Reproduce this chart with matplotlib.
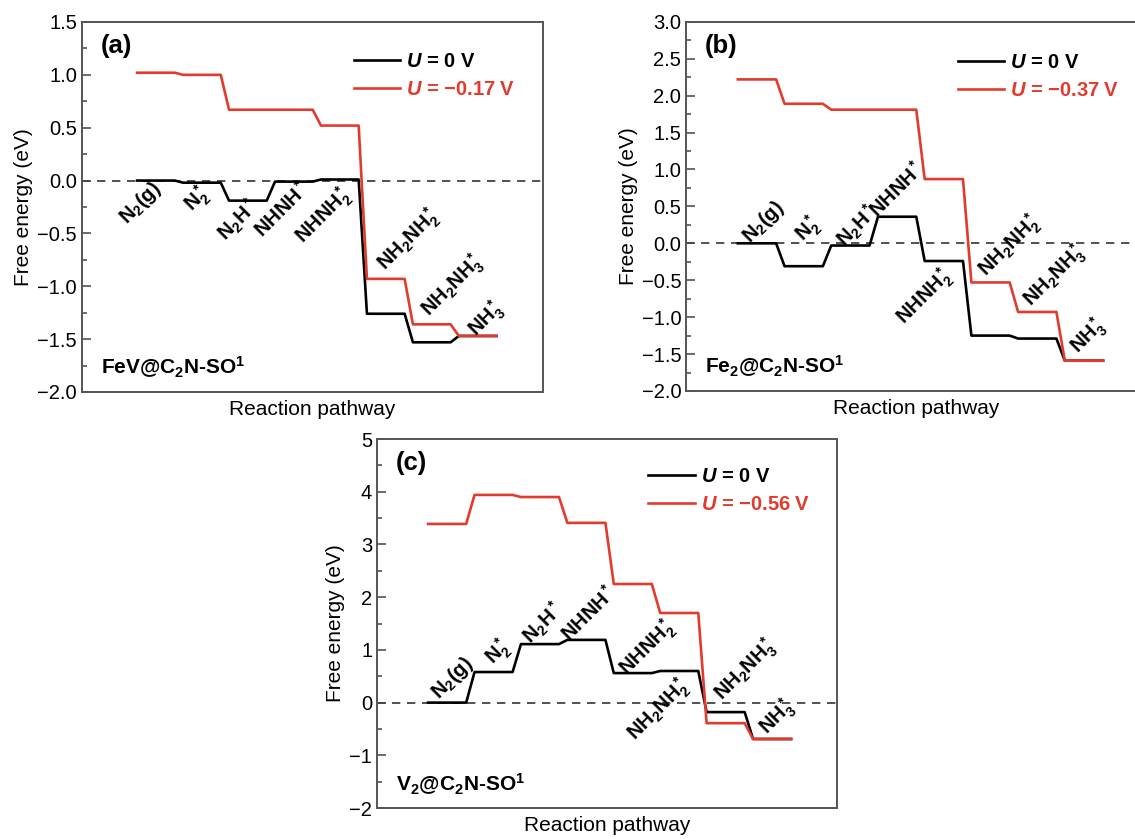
import matplotlib
matplotlib.use('Agg')
import matplotlib.pyplot as plt
from matplotlib.ticker import MultipleLocator

plt.rcParams['font.family'] = ['Liberation Sans', 'DejaVu Sans']
plt.rcParams['mathtext.fontset'] = 'custom'
plt.rcParams['mathtext.rm'] = 'Liberation Sans'
plt.rcParams['mathtext.bf'] = 'Liberation Sans:bold'
plt.rcParams['mathtext.it'] = 'Liberation Sans:italic:bold'
plt.rcParams['mathtext.default'] = 'bf'

# intermediates along the pathway (same for all three panels)
states = ['N$_2$(g)', 'N$_2^*$', 'N$_2$H$^*$', 'NHNH$^*$', 'NHNH$_2^*$',
          'NH$_2$NH$_2^*$', 'NH$_2$NH$_3^*$', 'NH$_3^*$']

# free energies (eV), U = 0 V and U = limiting potential
a_u0 = [0.00, -0.02, -0.19, -0.01, 0.01, -1.26, -1.53, -1.47]
a_ul = [1.02, 1.00, 0.67, 0.67, 0.52, -0.93, -1.36, -1.47]
b_u0 = [0.00, -0.31, -0.03, 0.36, -0.24, -1.25, -1.29, -1.59]
b_ul = [2.22, 1.89, 1.81, 1.81, 0.87, -0.53, -0.93, -1.59]
c_u0 = [0.00, 0.58, 1.11, 1.19, 0.56, 0.60, -0.18, -0.69]
c_ul = [3.39, 3.94, 3.90, 3.41, 2.25, 1.70, -0.39, -0.69]

potentials = ['\u22120.17', '\u22120.37', '\u22120.56']
catalysts = ['FeV@C$_2$N-SO$^1$', 'Fe$_2$@C$_2$N-SO$^1$', 'V$_2$@C$_2$N-SO$^1$']
tags = ['(a)', '(b)', '(c)']

# where the rotated state labels sit (data coords)
a_lab = [(0.07, -0.21), (1.3, -0.18), (2.2, -0.37), (3.15, -0.27), (4.05, -0.34),
         (5.9, -0.56), (6.87, -1.0), (7.6, -1.31)]
b_lab = [(0.54, 0.28), (1.5, 0.19), (2.55, 0.23), (3.4, 0.73), (4.0, -0.73),
         (5.82, -0.04), (6.79, -0.45), (7.5, -1.26)]
c_lab = [(0.52, 0.46), (1.51, 0.95), (2.48, 1.5), (3.45, 1.69), (4.72, 1.04),
         (4.96, -0.15), (6.83, 0.61), (7.52, -0.28)]

RED = '#e23b2e'


def steps(energies, width=0.82):
    # each state is a flat segment, neighbours joined by a slanted line
    xs = []
    ys = []
    for i, e in enumerate(energies):
        xs += [i, i + width]
        ys += [e, e]
    return xs, ys


def draw(ax, u0, ul, pot, name, tag, labpos, ylim, major, minor, xlim, leg_y, ylab_x):
    ax.axhline(0, color='#333333', lw=1.2, ls=(0, (5, 4)), zorder=1)
    x, y = steps(u0)
    ax.plot(x, y, color='black', lw=1.9, label=r'$\mathit{U}$ = 0 V', zorder=2)
    x, y = steps(ul)
    ax.plot(x, y, color=RED, lw=1.9, label=r'$\mathit{U}$ = ' + pot + ' V', zorder=3)

    for s, (lx, ly) in zip(states, labpos):
        ax.text(lx, ly, s, rotation=45, rotation_mode='anchor', ha='center', va='center',
                fontsize=14.5, fontweight='bold')

    ax.set_xlim(xlim)
    ax.set_ylim(ylim)
    ax.set_xticks([])
    ax.yaxis.set_major_locator(MultipleLocator(major))
    ax.yaxis.set_minor_locator(MultipleLocator(minor))
    ax.tick_params(axis='y', which='major', direction='in', length=6.5, width=1.1,
                   labelsize=14.5, pad=3.5, color='#444444')
    ax.tick_params(axis='y', which='minor', direction='in', length=3.6, width=1.1,
                   color='#444444')
    for sp in ax.spines.values():
        sp.set_color('#555555')
        sp.set_linewidth(1.4)

    ax.set_xlabel('Reaction pathway', fontsize=15, labelpad=6)
    ax.set_ylabel('Free energy (eV)', fontsize=15)
    ax.yaxis.set_label_coords(ylab_x, 0.5)

    ax.text(0.041, 0.935, tag, transform=ax.transAxes, fontsize=18.5, fontweight='bold',
            ha='left', va='center')
    ax.text(0.041, 0.066, name, transform=ax.transAxes, fontsize=15, fontweight='bold',
            ha='left', va='center')

    ax.legend(loc='upper left', bbox_to_anchor=(0.59, leg_y), frameon=False, borderpad=0,
              borderaxespad=0, handlelength=2.3, handletextpad=0.3, labelspacing=0.45,
              labelcolor='linecolor', prop={'weight': 'bold', 'size': 14.5})


fig = plt.figure(figsize=(11.35, 8.39), dpi=100)
ax_a = fig.add_axes([0.0722, 0.5328, 0.4062, 0.441])
ax_b = fig.add_axes([0.6044, 0.5340, 0.4062, 0.440])
ax_c = fig.add_axes([0.3322, 0.0369, 0.4053, 0.4398])

draw(ax_a, a_u0, a_ul, potentials[0], catalysts[0], tags[0], a_lab,
     (-2.0, 1.5), 0.5, 0.25, (-1.2, 8.83), 0.92, -0.106)
draw(ax_b, b_u0, b_ul, potentials[1], catalysts[1], tags[1], b_lab,
     (-2.0, 3.0), 0.5, 0.25, (-1.11, 8.76), 0.915, -0.104)
draw(ax_c, c_u0, c_ul, potentials[2], catalysts[2], tags[2], c_lab,
     (-2, 5), 1, 0.5, (-1.1, 8.81), 0.925, -0.07)

fig.savefig('out.png', dpi=100)
